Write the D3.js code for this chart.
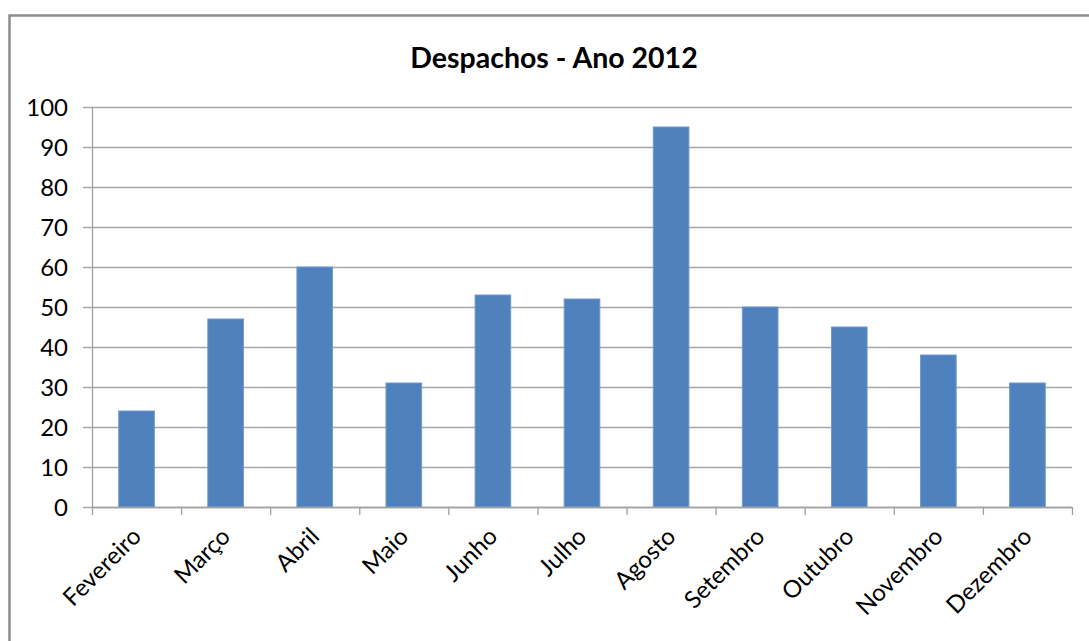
<!DOCTYPE html>
<html>
<head>
<meta charset="utf-8">
<script src="https://cdn.jsdelivr.net/npm/d3@7"></script>
<style>
  body { margin: 0; background: #fff; }
  text { font-family: Lato, "Open Sans", sans-serif; fill: #000; }
</style>
</head>
<body>
<script>
// Chart data
var months = ["Fevereiro", "Março", "Abril", "Maio", "Junho", "Julho", "Agosto",
              "Setembro", "Outubro", "Novembro", "Dezembro"];
var despachos = [24, 47, 60, 31, 53, 52, 95, 50, 45, 38, 31];
var yTicks = [0, 10, 20, 30, 40, 50, 60, 70, 80, 90, 100];

var svgWidth = 1089;
var svgHeight = 641;

var chartMargin = { top: 107, right: 17, bottom: 134, left: 92 };
var chartWidth = svgWidth - chartMargin.left - chartMargin.right;
var chartHeight = svgHeight - chartMargin.top - chartMargin.bottom;

var svg = d3.select("body")
            .append("svg")
            .attr("width", svgWidth)
            .attr("height", svgHeight);

// outer frame (only top and left edges are in the picture)
svg.append("rect")
   .attr("x", 9.5)
   .attr("y", 15.5)
   .attr("width", svgWidth + 20)
   .attr("height", svgHeight + 20)
   .attr("fill", "none")
   .attr("stroke", "#8c8c8c")
   .attr("stroke-width", 2.5);

svg.append("text")
   .attr("x", 554)
   .attr("y", 68)
   .attr("text-anchor", "middle")
   .style("font-size", "28.5px")
   .style("font-weight", "bold")
   .text("Despachos - Ano 2012");

var chartGroup = svg.append("g")
                    .attr("transform", `translate(${chartMargin.left}, ${chartMargin.top})`);

var x = d3.scaleBand()
          .domain(months)
          .range([0, chartWidth]);

var y = d3.scaleLinear()
          .domain([0, 100])
          .range([chartHeight, 0]);

// gridlines
chartGroup.append("g")
          .selectAll("line")
          .data(yTicks)
          .enter()
          .append("line")
          .attr("x1", -9)
          .attr("x2", chartWidth)
          .attr("y1", d => y(d) + 0.5)
          .attr("y2", d => y(d) + 0.5)
          .attr("stroke", "#a6a6a6")
          .attr("stroke-width", 1.3);

// y axis
var yAxis = chartGroup.append("g")
                      .call(d3.axisLeft(y).tickValues(yTicks).tickSize(9).tickPadding(15));
yAxis.select(".domain").attr("stroke", "#a0a0a0").attr("stroke-width", 1.3)
     .attr("d", `M0.5,0V${chartHeight}`);
yAxis.selectAll(".tick line").remove();
yAxis.selectAll("text").style("font-size", "24px").attr("dy", "0.36em");

// bars
var bw = x.bandwidth();
chartGroup.selectAll("rect.bar")
          .data(despachos)
          .enter()
          .append("rect")
          .attr("class", "bar")
          .attr("x", (d, i) => x(months[i]) + bw * 0.3)
          .attr("y", d => y(d))
          .attr("width", bw * 0.4)
          .attr("height", d => chartHeight - y(d))
          .attr("fill", "#4f81bd")
          .attr("stroke", "#6f9ad0")
          .attr("stroke-width", 1);

// x axis line and ticks at band boundaries
var xAxis = chartGroup.append("g").attr("transform", `translate(0, ${chartHeight})`);
xAxis.append("line")
     .attr("x1", 0).attr("x2", chartWidth)
     .attr("y1", 0.5).attr("y2", 0.5)
     .attr("stroke", "#a0a0a0").attr("stroke-width", 1.3);
xAxis.selectAll("line.tk")
     .data(months.concat(["end"]))
     .enter()
     .append("line")
     .attr("class", "tk")
     .attr("x1", (d, i) => i * x.step() + 0.5)
     .attr("x2", (d, i) => i * x.step() + 0.5)
     .attr("y1", 0).attr("y2", 8)
     .attr("stroke", "#a0a0a0").attr("stroke-width", 1.3);

xAxis.selectAll("text.lbl")
     .data(months)
     .enter()
     .append("text")
     .attr("class", "lbl")
     .attr("text-anchor", "end")
     .attr("transform", d => `translate(${x(d) + bw / 2 + 6}, 31) rotate(-45)`)
     .style("font-size", "24px")
     .text(d => d);
</script>
</body>
</html>
